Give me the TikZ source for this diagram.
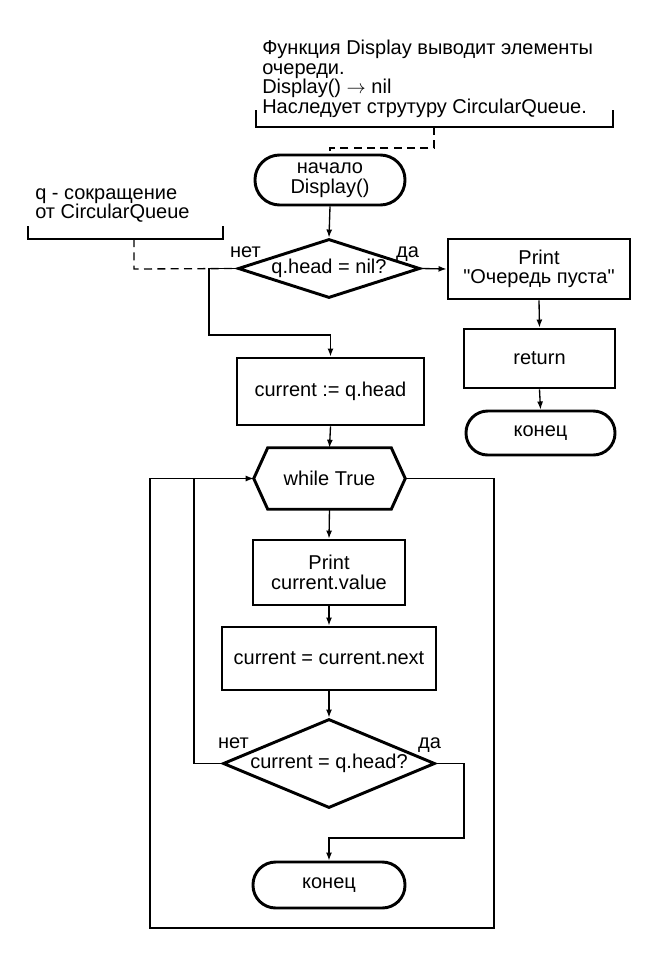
\documentclass[tikz,border=0pt]{standalone}
\usepackage{fontspec}
\setmainfont{Liberation Sans}[Ligatures=TeXOff]
\usetikzlibrary{arrows.meta,shapes.geometric}
\begin{document}
\begin{tikzpicture}[x=0.75pt,y=-0.75pt,
  every node/.style={font=\fontsize{15}{14.6}\selectfont, inner sep=0pt, align=center},
  shapebox/.style={draw, line width=2.2pt},
  box/.style={shapebox, rectangle},
  term/.style={shapebox, rectangle},
  dec/.style={shapebox, diamond, inner sep=-3pt},
  conn/.style={line width=1pt},
  arr/.style={conn, -{Latex[length=6pt,width=4.5pt]}},
  note/.style={line width=1pt},
  dashline/.style={line width=1pt, dash pattern=on 6pt off 4pt},
  lbl/.style={anchor=base}
]
\useasboundingbox (0,0) rectangle (660,960);

% comments
\node[anchor=north west, align=left] (c1) at (262,40)
  {Функция Display выводит элементы\\очереди.\\Display() \ensuremath{\rightarrow} nil\\Наследует струтуру CircularQueue.};
\draw[note] (256,110) |- (613,127) -- (613,110);
\coordinate (c1b) at (434,127);
\coordinate (c1k) at (434,148);

\node[anchor=north west, align=left] (c2) at (35,188)
  {q - сокращение\\от CircularQueue};
\draw[note] (28,226) |- (223,239) -- (223,226);
\coordinate (c2b) at (134,239);
\coordinate (c2k) at (134,269);

% main nodes
\node[term, minimum width=112.5pt, minimum height=37.5pt, rounded corners=18.5pt] (start) at (330,180) {начало\\Display()};
\node[dec, minimum width=136.5pt, minimum height=44.25pt, shape aspect=3.08] (d1) at (329,268.5) {q.head = nil?};
\node[box, minimum width=136.5pt, minimum height=45pt] (pe) at (539,269) {Print\\"Очередь пуста"};
\node[box, minimum width=113.25pt, minimum height=44.25pt] (ret) at (539.5,358.5) {return};
\node[term, minimum width=111.75pt, minimum height=33pt, rounded corners=16.3pt] (end1) at (540.5,433) {конец};
\node[box, minimum width=140.25pt, minimum height=50.25pt] (cur) at (330.5,391.5) {current := q.head};
\node[minimum width=113.25pt, minimum height=45.75pt] (loop) at (329.5,478.5) {while True};
\draw[line width=2.2pt, line join=miter] (loop.west) -- ([xshift=10.5pt]loop.north west) -- ([xshift=-10.5pt]loop.north east) -- (loop.east) -- ([xshift=-10.5pt]loop.south east) -- ([xshift=10.5pt]loop.south west) -- cycle;
\node[box, minimum width=114pt, minimum height=48.75pt] (pv) at (329,572.5) {Print\\current.value};
\node[box, minimum width=160.5pt, minimum height=47.25pt] (nxt) at (329,658.5) {current = current.next};
\node[dec, minimum width=159pt, minimum height=66.75pt, shape aspect=2.38] (d2) at (329,763.5) {current = q.head?};
\node[term, minimum width=114pt, minimum height=34.5pt, rounded corners=17pt] (end2) at (329,885) {конец};

% labels
\node[lbl] (l1n) at (245.5,257) {нет};
\node[lbl] (l1y) at (407.5,257) {да};
\node[lbl] (l2n) at (233.5,748) {нет};
\node[lbl] (l2y) at (429.5,748) {да};

% dashed comment connectors
\draw[dashline] (c1b) -- (c1k) -| (start.north);
\draw[dashline] (c2b) -- (c2k) -- (d1.west);

% connectors
\coordinate (n1) at (209,335);
\coordinate (lr) at (494,928);
\coordinate (ll) at (150,928);
\coordinate (nj) at (194,478.5);
\coordinate (yj) at (464,838);

\draw[arr] (start.south) -- (d1.north);
\draw[arr] (d1.east) -- (pe.west);
\draw[arr] (pe.south) -- (ret.north);
\draw[arr] (ret.south) -- (end1.north);
\draw[arr] (d1.west) -| (n1) -| (cur.north);
\draw[arr] (cur.south) -- (loop.north);
\draw[arr] (loop.south) -- (pv.north);
\draw[arr] (pv.south) -- (nxt.north);
\draw[arr] (nxt.south) -- (d2.north);
\draw[arr] (loop.east) -| (lr) -- (ll) |- (loop.west);
\draw[conn] (d2.west) -| (nj);
\draw[arr] (d2.east) -| (yj) -| (end2.north);
\end{tikzpicture}
\end{document}
